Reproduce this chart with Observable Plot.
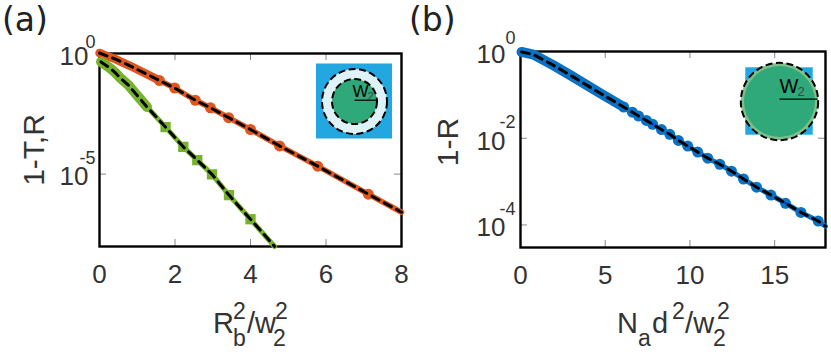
<!DOCTYPE html>
<html><head><meta charset="utf-8">
<script src="https://cdn.jsdelivr.net/npm/d3@7"></script>
<script src="https://cdn.jsdelivr.net/npm/@observablehq/plot@0.6"></script>
<style>
html,body{margin:0;padding:0;background:#fff;}
#page{position:relative;width:831px;height:356px;overflow:hidden;font-family:"Liberation Sans",Arial,sans-serif;color:#333;}
#page svg{position:absolute;max-width:none;}
.t{position:absolute;white-space:nowrap;line-height:1;}
.panel{font-family:"DejaVu Sans",sans-serif;font-size:33px;color:#222;}
.lab{font-size:29px;}
.s{position:absolute;font-size:23px;line-height:1;}
.rot{font-size:30px;transform:translate(-50%,-50%) rotate(-90deg);}
</style></head><body><div id="page"></div>
<script>
// Panel (a): x = R_b^2/w_2^2, log10 of the plotted value
const orangeX   = [0, .16, .42, .82, 1.22, 1.59, 1.99, 2.54, 2.94, 3.42, 4.0, 4.77, 5.78, 7.12, 8.0];
const orangeLog = [.02, -.08, -.23, -.52, -.83, -1.12, -1.43, -1.94, -2.25, -2.66, -3.15, -3.83, -4.67, -5.83, -6.58];
const greenX    = [.04, .29, .42, .56, .77, .90, 1.26, 1.75, 2.22, 2.59, 2.98, 3.43, 4.0, 4.64];
const greenLog  = [-.35, -.62, -.80, -1.03, -1.32, -1.56, -2.22, -3.05, -3.87, -4.42, -5.01, -5.87, -6.87, -8.0];
// Panel (b): x = N_a d^2/w_2^2, log10 of 1-R
const blueX   = [.06, .77, 1.95, 3.13, 4.73, 6.09, 6.60, 6.97, 7.43, 7.80, 8.32, 8.81, 9.32, 9.87, 10.46, 11.05, 11.76, 12.45, 13.16, 13.93, 14.78, 15.64, 16.55, 17.57, 18];
const blueLog = [-.01, -.07, -.32, -.59, -.97, -1.28, -1.40, -1.49, -1.59, -1.68, -1.80, -1.91, -2.05, -2.18, -2.32, -2.46, -2.60, -2.76, -2.94, -3.13, -3.31, -3.50, -3.71, -3.91, -4.03];

const aXTicks = [0, 2, 4, 6, 8], aYTicks = [1, 1e-5];
const bXTicks = [0, 5, 10, 15],  bYTicks = [1, 1e-2, 1e-4];
const aXDomain = [0, 8],  aYDomain = [1e-8, 1];
const bXDomain = [0, 18], bYDomain = [10 ** -4.52, 1];

const ORANGE = "#e0561f", GREEN = "#76b32c", BLUE = "#0a72c4";
const rows = (xs, logs) => xs.map((x, i) => ({x, y: 10 ** logs[i]}));
const page = document.getElementById("page");

function place(svg, left, top) {
  svg.style.left = left + "px"; svg.style.top = top + "px";
  page.appendChild(svg);
}
function expText(v) { return String(Math.round(Math.log10(v))); }

function panel({width, ml, mr, mt, mb, xDomain, yDomain, xTicks, yTicks, curves, expGap, basePad, zeroDy}) {
  const W = width - ml - mr, H = 356 - mt - mb, tick = 7, tc = "#888";
  const marks = [
    Plot.tickX(xTicks.slice(1), {x: d => d, stroke: tc, insetBottom: H - tick}),
    Plot.tickX(xTicks.slice(1), {x: d => d, stroke: tc, insetTop: H - tick}),
    Plot.tickY(yTicks.slice(1), {y: d => d, stroke: tc, insetRight: W - tick}),
    Plot.tickY(yTicks.slice(1), {y: d => d, stroke: tc, insetLeft: W - tick}),
    Plot.frame({stroke: "#000", strokeWidth: 2.4}),
    Plot.axisX(xTicks, {anchor: "bottom", tickSize: 0, tickPadding: 18, fontSize: 26, fill: "#333", label: null, tickFormat: d => String(d)}),
    Plot.axisY(yTicks, {anchor: "left", tickSize: 0, tickPadding: basePad, fontSize: 26, fill: "#333", label: null, tickFormat: () => "10", dy: 3}),
    Plot.text(yTicks.filter(d => d === 1), {y: d => d, frameAnchor: "left", text: expText, textAnchor: "end", lineAnchor: "bottom", dx: -expGap, dy: zeroDy, fontSize: 18, fill: "#333"}),
    Plot.text(yTicks.filter(d => d !== 1), {y: d => d, frameAnchor: "left", text: expText, textAnchor: "end", lineAnchor: "bottom", dx: -expGap, dy: -10, fontSize: 18, fill: "#333"})
  ];
  for (const c of curves) {
    const data = rows(c.x, c.log);
    const dense = data.filter(d => d.x <= c.denseTo);
    const sparse = data.slice(c.firstDot, c.lastDot);
    marks.push(Plot.line(data, {x: "x", y: "y", stroke: c.color, strokeWidth: c.w}));
    marks.push(Plot.line(dense, {x: "x", y: "y", stroke: c.color, strokeWidth: c.denseW, strokeLinecap: "round"}));
    marks.push(Plot.dot(sparse, {x: "x", y: "y", fill: c.color, r: c.r, symbol: c.symbol}));
    if (c.core) marks.push(Plot.dot(sparse, {x: "x", y: "y", fill: c.core, r: 1}));
    marks.push(Plot.line(data, {x: "x", y: "y", stroke: "#000", strokeWidth: 3, strokeDasharray: "8,6"}));
  }
  return Plot.plot({
    width, height: 356, marginLeft: ml, marginRight: mr, marginTop: mt, marginBottom: mb,
    style: {background: "transparent", fontFamily: "'Liberation Sans',Arial,sans-serif", overflow: "visible"},
    x: {domain: xDomain, axis: null},
    y: {type: "log", domain: yDomain, axis: null},
    marks
  });
}

place(panel({
  width: 415, ml: 99, mr: 14, mt: 53, mb: 110, expGap: 4, basePad: 11, zeroDy: -6,
  xDomain: aXDomain, yDomain: aYDomain, xTicks: aXTicks, yTicks: aYTicks,
  curves: [
    {x: orangeX, log: orangeLog, color: ORANGE, w: 5.5, denseTo: 1.6, denseW: 8.5, r: 5.5, symbol: "circle", firstDot: 5, lastDot: 14},
    {x: greenX, log: greenLog, color: GREEN, w: 5, denseTo: 1.3, denseW: 10, r: 5.8, symbol: "square", firstDot: 7, lastDot: 13}
  ]
}), 0, 0);

place(panel({
  width: 416, ml: 105, mr: 6, mt: 51, mb: 109, expGap: 5, basePad: 15, zeroDy: -8,
  xDomain: bXDomain, yDomain: bYDomain, xTicks: bXTicks, yTicks: bYTicks,
  curves: [
    {x: blueX, log: blueLog, color: BLUE, w: 5, denseTo: 6.1, denseW: 10, r: 5.5, symbol: "circle", core: "#0018e0", firstDot: 5, lastDot: 24}
  ]
}), 415, 0);

// Insets: the little beam-profile schematics
function inset({size, halfW, halfH, rOuter, rInner, fillOuter, fillInner, len, ruleY, textX, textY, fontSize, subSize, subDx, subDy}) {
  const h = size / 2;
  return Plot.plot({
    width: size, height: size, margin: 0,
    style: {background: "transparent", fontFamily: "'Liberation Sans',Arial,sans-serif"},
    x: {domain: [-h, h], axis: null}, y: {domain: [-h, h], axis: null},
    marks: [
      Plot.rect([{x1: -halfW, x2: halfW, y1: -halfH, y2: halfH}], {x1: "x1", x2: "x2", y1: "y1", y2: "y2", fill: "#22a7e0"}),
      Plot.dot([[0, 0]], {x: "0", y: "1", r: rOuter, fill: fillOuter, stroke: "#000", strokeWidth: 2, strokeDasharray: "7,3.5"}),
      rInner ? Plot.dot([[0, 0]], {x: "0", y: "1", r: rInner, fill: fillInner, stroke: fillOuter === "#dff2f8" ? "#000" : "none", strokeWidth: 2, strokeDasharray: "7,3.5"}) : null,
      Plot.link([{a: 0, b: ruleY, c: len}], {x1: "a", y1: "b", x2: "c", y2: "b", stroke: "#000", strokeWidth: 1.2}),
      Plot.text(["W"], {x: () => textX, y: () => textY, text: d => d, textAnchor: "start", lineAnchor: "bottom", fontSize, fill: "#000"}),
      Plot.text(["2"], {x: () => textX, y: () => textY, text: d => d, textAnchor: "start", lineAnchor: "bottom", fontSize: subSize, dx: subDx, dy: subDy, fill: "#444"})
    ]
  });
}
place(inset({size: 90, halfW: 38, halfH: 37.5, rOuter: 32.5, rInner: 22.5, fillOuter: "#dff2f8", fillInner: "#2fa87a",
  len: 22, ruleY: 1.3, textX: -2, textY: 5, fontSize: 17, subSize: 11, subDx: 15, subDy: 3}), 309, 55.7);
place(inset({size: 90, halfW: 33.7, halfH: 33.7, rOuter: 38.7, rInner: 35.5, fillOuter: "#7fc08a", fillInner: "#2fa87a",
  len: 38, ruleY: 2.4, textX: 0, textY: 9, fontSize: 20, subSize: 13, subDx: 18, subDy: 3}), 733.7, 55.7);

// Text labels
function addHTML(html, cls, left, top) {
  const d = document.createElement("div");
  d.className = "t " + cls; d.style.left = left + "px"; d.style.top = top + "px";
  d.innerHTML = html; page.appendChild(d);
}
addHTML("(a)", "panel", 2, 3);
addHTML("(b)", "panel", 409, 3);
addHTML("1-T,R", "rot", 34, 150);
addHTML("1-R", "rot", 448, 142);

addHTML('R<span class="s" style="left:20px;top:-9px">2</span><span class="s" style="left:20px;top:18px">b</span><span style="margin-left:13px">/w</span><span class="s" style="left:60px;top:18px">2</span><span class="s" style="left:62px;top:-9px">2</span>', "lab", 213, 309);
addHTML('N<span class="s" style="left:21px;top:18px">a</span><span style="margin-left:14px">d</span><span class="s" style="left:55px;top:-9px">2</span><span style="margin-left:17px">/w</span><span class="s" style="left:96px;top:18px">2</span><span class="s" style="left:100px;top:-9px">2</span>', "lab", 617, 309);
</script></body></html>
